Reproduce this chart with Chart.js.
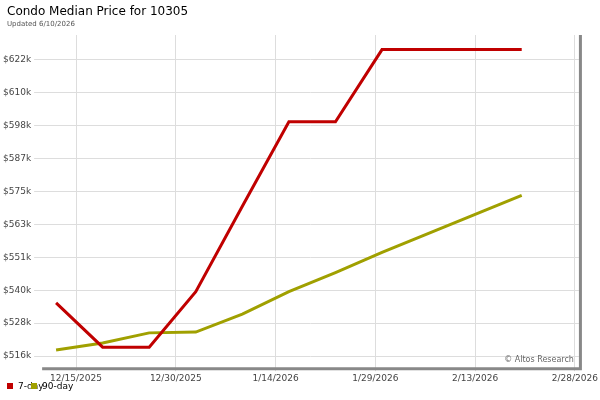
<!DOCTYPE html>
<html><head><meta charset="utf-8">
<script src="https://cdn.jsdelivr.net/npm/chart.js@4/dist/chart.umd.min.js"></script>
<style>html,body{margin:0;padding:0;background:#fff}#w{width:600px;height:400px;position:relative}</style>
</head><body><div id="w"><canvas id="c"></canvas></div>
<script>
// day offsets from 12/15/2025
const days = [-3,4,11,18,25,32,39,46,53,60,67];
const sevenDay = [535000,519200,519200,539000,569500,599600,599600,625400,625400,625400,625400];
const ninetyDay = [518200,520700,524300,524600,531000,539000,545800,553000,559800,566600,573400];
const xTickDays = [0,15,30,45,60,75];
const xTickLabels = ['12/15/2025','12/30/2025','1/14/2026','1/29/2026','2/13/2026','2/28/2026'];
const yTicks = [516000,527770,539540,551310,563080,574850,586620,598390,610160,621930];

Chart.defaults.font.family = 'DejaVu Sans';
const pts = a => a.map((v,i)=>({x:days[i],y:v}));
const deco = {
  id:'deco',
  afterDraw(ch){
    const c=ch.ctx, a=ch.chartArea;
    c.save();
    c.fillStyle='#000'; c.font='12px DejaVu Sans'; c.textBaseline='top';
    c.fillText('Condo Median Price for 10305',7,6);
    c.fillStyle='#555'; c.font='7px DejaVu Sans';
    c.fillText('Updated 6/10/2026',7,21);
    c.fillStyle='#666'; c.font='8px DejaVu Sans'; c.textAlign='right'; c.textBaseline='bottom';
    c.fillText('© Altos Research',a.right-5,a.bottom-3);
    c.strokeStyle='#888'; c.lineWidth=3;
    c.beginPath(); c.moveTo(a.left,a.bottom+1.5); c.lineTo(a.right+1.5,a.bottom+1.5); c.lineTo(a.right+1.5,a.top); c.stroke();
    // legend
    c.textAlign='left'; c.textBaseline='middle'; c.font='9px DejaVu Sans'; c.fillStyle='#000';
    const items=[['7-day','#c00000',7],['90-day','#a0a000',31]];
    items.forEach(([t,col,x])=>{c.fillStyle=col;c.fillRect(x,383,6,6);c.fillStyle='#000';c.fillText(t,x+11,386.5);});
    c.restore();
  }
};
new Chart(document.getElementById('c'),{
  type:'line',
  data:{datasets:[
    {label:'7-day',data:pts(sevenDay),borderColor:'#c00000',backgroundColor:'#c00000',borderWidth:3,pointRadius:0,tension:0},
    {label:'90-day',data:pts(ninetyDay),borderColor:'#a0a000',backgroundColor:'#a0a000',borderWidth:3,pointRadius:0,tension:0}
  ]},
  options:{
    responsive:true,maintainAspectRatio:false,animation:false,
    layout:{padding:{top:35,right:-14,left:0,bottom:14}},
    plugins:{legend:{display:false},tooltip:{enabled:false}},
    scales:{
      x:{type:'linear',min:-5.1,max:75.6,
        afterBuildTicks:ax=>{ax.ticks=xTickDays.map(v=>({value:v}));},
        ticks:{callback:(v)=>xTickLabels[xTickDays.indexOf(v)],font:{size:9},color:'#444',maxRotation:0,autoSkip:false,padding:2},
        grid:{color:'#ddd',drawTicks:true,tickLength:4},border:{display:false}},
      y:{min:512050,max:630600,
        afterBuildTicks:ax=>{ax.ticks=yTicks.map(v=>({value:v}));},
        ticks:{callback:v=>'$'+Math.round(v/1000)+'k',font:{size:9},color:'#444'},
        grid:{color:'#ddd'},border:{display:false}}
    }
  },
  plugins:[deco]
});
</script></body></html>
